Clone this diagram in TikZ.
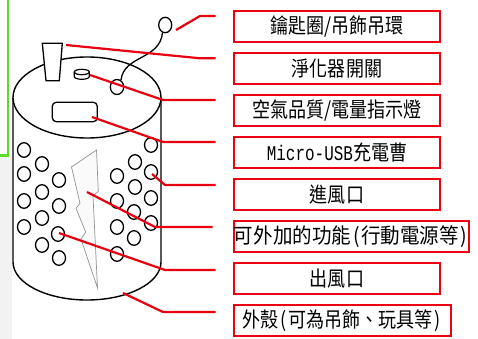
\documentclass[tikz,border=0pt]{standalone}
\usepackage{fontspec}
\newfontfamily\cjk[FakeStretch=0.86]{Noto Sans CJK TC}
\newfontfamily\cjkwide[FakeStretch=0.93]{Noto Sans CJK TC}
\newfontfamily\monof[FakeStretch=0.76]{Liberation Mono}
\definecolor{leadred}{RGB}{232,0,16}
\definecolor{framered}{RGB}{236,0,20}
\definecolor{edgegreen}{RGB}{90,220,40}
\newcommand{\lpar}{\kern2pt(\kern1.5pt}
\newcommand{\rpar}{\kern1.5pt)\kern2pt}
\tikzset{
  outline/.style={draw=black, line width=1.4pt},
  hole/.style={draw=black, line width=1.3pt, fill=white},
  labelbox/.style={draw=framered, line width=2.7pt, fill=white,
    minimum height=31pt, inner sep=0pt,
    font=\cjk\fontsize{21}{21}\selectfont},
  lead/.style={draw=leadred, line width=2.2pt},
}
\begin{document}
\begin{tikzpicture}[x=1pt, y=-1pt]
\useasboundingbox (0,0) rectangle (478,339);
\fill[white] (0,0) rectangle (478,339);

% strip and frame corner on the left edge
\fill[gray!10] (0,156) rectangle (12.3,339);
\draw[edgegreen, line width=2.8pt] (8,0) -- (8,155.5) -- (0,155.5);

% cylinder body
\draw[outline] (13,97.5) -- (13,262) arc[start angle=180, end angle=360, x radius=74pt, y radius=38pt] -- (161,97.5);
\draw[outline, fill=white] (87,97.5) ellipse [x radius=74pt, y radius=40.5pt];

% air holes, left group
\foreach \hx/\hy in {24/150, 24/174, 24/201, 24/227,
                     42/164, 42/192, 42/218, 42/245,
                     59/180, 59/206, 58/234, 59/258}
  \draw[hole] (\hx,\hy) ellipse [x radius=6.5pt, y radius=7.3pt];
% air holes, right group
\foreach \hx/\hy in {117/176, 117/201, 117/227, 117/254,
                     135/162, 135/187, 134/212, 134/238,
                     151/145, 151/172, 151/198, 151/223}
  \draw[hole] (\hx,\hy) ellipse [x radius=6.5pt, y radius=7.3pt];

% lightning bolt
\draw[gray!85, line width=0.7pt, fill=gray!4]
  (71.5,167) -- (96.5,150) -- (98.3,191.5) -- (93,196) -- (97.5,288)
  -- (81,239) -- (85.7,232) -- (76,208.3) -- (80,203.3) -- cycle;

% display window
\draw[outline, line width=1.3pt, fill=white, rounded corners=4pt] (52.3,102.3) rectangle (97.3,121.7);

% switch button
\draw[black, line width=1.2pt, fill=white]
  (74.3,72) -- (74.3,76.6) arc[start angle=180, end angle=360, x radius=7.5pt, y radius=2.7pt] -- (89.3,72);
\draw[black, line width=1.2pt, fill=white] (81.8,72) ellipse [x radius=7.5pt, y radius=2.7pt];

% filter stem
\draw[black, line width=1.3pt, fill=white] (42.3,43.3) -- (62.3,43.3) -- (59.3,80.7) -- (46,80.7) -- cycle;

% key ring
\draw[black, line width=1.3pt] (121,80) .. controls (124,55) and (160,60) .. (162.5,32.5);
\draw[hole] (117,87) ellipse [x radius=6.7pt, y radius=7.5pt];
\draw[hole] (165.2,25) ellipse [x radius=6.5pt, y radius=7.7pt];

% pointed parts
\coordinate (p1) at (176,30);
\coordinate (p2) at (66,45);
\coordinate (p3) at (90,75);
\coordinate (p4) at (92,117);
\coordinate (p5) at (152,174);
\coordinate (p6) at (87,192);
\coordinate (p7) at (59,233);
\coordinate (p8) at (123,293);

% labels
\node[labelbox, minimum width=206pt] (b1) at (337,26.5) {鑰匙圈/吊飾吊環};
\node[labelbox, minimum width=206pt] (b2) at (337,68.5) {淨化器開關};
\node[labelbox, minimum width=206pt] (b3) at (337,110.5) {空氣品質/電量指示燈};
\node[labelbox, minimum width=206pt] (b4) at (337,152.5) {{\monof\fontsize{21}{21}\selectfont Micro-USB}充電曹};
\node[labelbox, minimum width=206pt] (b5) at (337,194.5) {進風口};
\node[labelbox, minimum width=235pt, font=\cjkwide\fontsize{21}{21}\selectfont] (b6) at (351.5,236.5) {可外加的功能\lpar 行動電源等\rpar};
\node[labelbox, minimum width=206pt] (b7) at (337,278.5) {出風口};
\node[labelbox, minimum width=217pt] (b8) at (342.5,320.5) {外殼\lpar 可為吊飾、玩具等\rpar};

% leader lines
\draw[lead] (p1) -- (200,16)   -- ([xshift=-17pt, yshift=10.5pt]b1.west);
\draw[lead] (p2) -- (200,58.3) -- ([xshift=-17pt, yshift=10.2pt]b2.west);
\draw[lead] (p3) -- (163,100)  -- ([xshift=-17pt, yshift=10.5pt]b3.west);
\draw[lead] (p4) -- (163,142)  -- ([xshift=-17pt, yshift=10.5pt]b4.west);
\draw[lead] (p5) -- (165,185)  -- ([xshift=-17pt, yshift=9.5pt]b5.west);
\draw[lead] (p6) -- (155,227)  -- ([xshift=-20pt, yshift=9.5pt]b6.west);
\draw[lead] (p7) -- (165,270)  -- ([xshift=-17pt, yshift=8.5pt]b7.west);
\draw[lead] (p8) -- (163,312)  -- ([xshift=-17pt, yshift=8.5pt]b8.west);
\end{tikzpicture}
\end{document}
